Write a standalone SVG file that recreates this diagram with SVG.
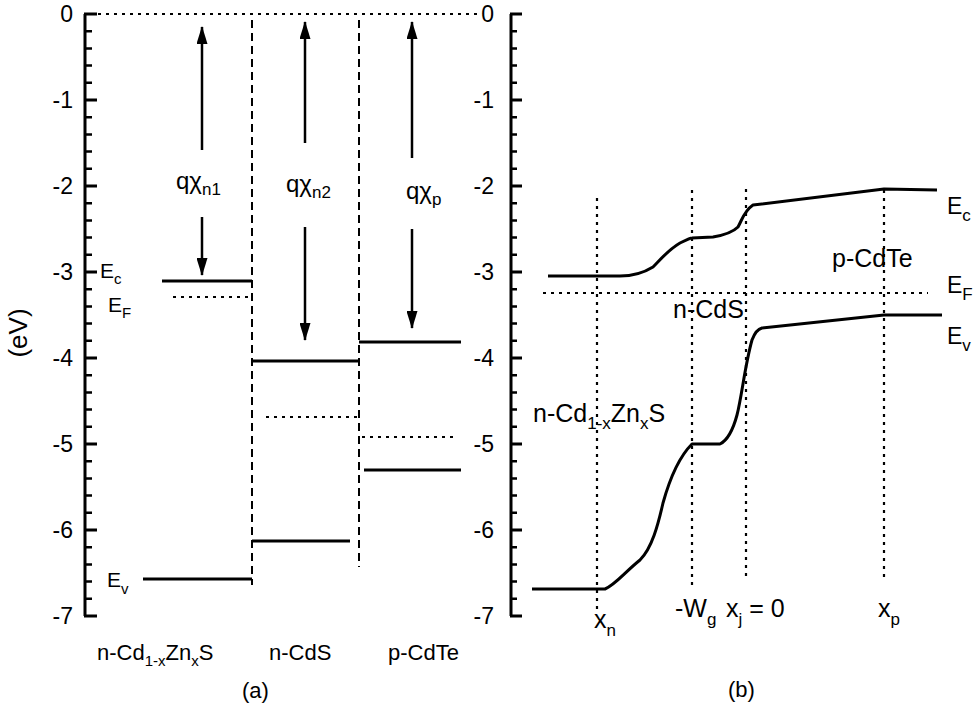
<svg xmlns="http://www.w3.org/2000/svg" width="976" height="707" viewBox="0 0 976 707">
<style>
text{font-family:"Liberation Sans",Arial,sans-serif;fill:#000}
.tk{font-size:23px;text-anchor:end}
.lb{font-size:25px}
.ql{font-size:24px}
.sm{font-size:22px}
.el{font-size:21px}
.eb{font-size:23px}
.sub{font-size:15px}
.sub2{font-size:17px}
.ax{stroke:#000;stroke-width:3;fill:none}
.lvl{stroke:#000;stroke-width:2.8;fill:none}
.dot{stroke:#000;stroke-width:2.2;stroke-dasharray:3 5;fill:none}
.dash{stroke:#000;stroke-width:2;stroke-dasharray:8 5;fill:none}
.arr{stroke:#000;stroke-width:2.5;fill:none;marker-end:url(#ah)}
.crv{stroke:#000;stroke-width:3;fill:none;stroke-linejoin:round}
</style>
<defs>
<marker id="ah" markerUnits="userSpaceOnUse" markerWidth="18" markerHeight="11" viewBox="0 0 18 11" refX="17" refY="5.5" orient="auto">
<path d="M0,0 L18,5.5 L0,11 z" fill="#000"/>
</marker>
</defs>
<rect width="976" height="707" fill="#fff"/>

<!-- Left axis -->
<g id="axis-left">
<path class="ax" d="M85,14 V616"/>
<path class="ax" d="M84,14 H97 M84,100 H97 M84,186 H97 M84,272 H97 M84,358 H97 M84,444 H97 M84,530 H97 M84,616 H97"/>
<path class="ax" style="stroke-width:2.5" d="M85,31.2 H92 M85,48.4 H92 M85,65.6 H92 M85,82.8 H92 M85,117.2 H92 M85,134.4 H92 M85,151.6 H92 M85,168.8 H92 M85,203.2 H92 M85,220.4 H92 M85,237.6 H92 M85,254.8 H92 M85,289.2 H92 M85,306.4 H92 M85,323.6 H92 M85,340.8 H92 M85,375.2 H92 M85,392.4 H92 M85,409.6 H92 M85,426.8 H92 M85,461.2 H92 M85,478.4 H92 M85,495.6 H92 M85,512.8 H92 M85,547.2 H92 M85,564.4 H92 M85,581.6 H92 M85,598.8 H92"/>
<text class="tk" x="73" y="22">0</text>
<text class="tk" x="73" y="108">-1</text>
<text class="tk" x="73" y="194">-2</text>
<text class="tk" x="73" y="280">-3</text>
<text class="tk" x="73" y="366">-4</text>
<text class="tk" x="73" y="452">-5</text>
<text class="tk" x="73" y="538">-6</text>
<text class="tk" x="73" y="624">-7</text>
<text x="0" y="0" style="font-size:26px" text-anchor="middle" transform="translate(27,333) rotate(-90)">(eV)</text>
</g>

<!-- Right axis -->
<g id="axis-right">
<path class="ax" d="M511,14 V616"/>
<path class="ax" d="M510,14 H522 M510,100 H522 M510,186 H522 M510,272 H522 M510,358 H522 M510,444 H522 M510,530 H522 M510,616 H522"/>
<path class="ax" style="stroke-width:2.5" d="M511,31.2 H517 M511,48.4 H517 M511,65.6 H517 M511,82.8 H517 M511,117.2 H517 M511,134.4 H517 M511,151.6 H517 M511,168.8 H517 M511,203.2 H517 M511,220.4 H517 M511,237.6 H517 M511,254.8 H517 M511,289.2 H517 M511,306.4 H517 M511,323.6 H517 M511,340.8 H517 M511,375.2 H517 M511,392.4 H517 M511,409.6 H517 M511,426.8 H517 M511,461.2 H517 M511,478.4 H517 M511,495.6 H517 M511,512.8 H517 M511,547.2 H517 M511,564.4 H517 M511,581.6 H517 M511,598.8 H517"/>
<text class="tk" x="494" y="22">0</text>
<text class="tk" x="494" y="108">-1</text>
<text class="tk" x="494" y="194">-2</text>
<text class="tk" x="494" y="280">-3</text>
<text class="tk" x="494" y="366">-4</text>
<text class="tk" x="494" y="452">-5</text>
<text class="tk" x="494" y="538">-6</text>
<text class="tk" x="494" y="624">-7</text>
</g>

<!-- Panel (a) -->
<g id="vacuum-level"><path class="dot" d="M98,14 H480"/></g>
<g id="interfaces">
<path class="dash" d="M252,20 V585"/>
<path class="dash" d="M359,20 V567"/>
</g>

<g id="n-CdZnS">
<path class="lvl" d="M162,281 H252"/>
<path class="dot" d="M173,297 H252"/>
<path class="lvl" d="M143,579 H252"/>
<text class="el" x="100" y="278">E<tspan class="sub" dy="6">c</tspan></text>
<text class="el" x="108" y="312">E<tspan class="sub" dy="6">F</tspan></text>
<text class="el" x="107" y="587">E<tspan class="sub" dy="7">v</tspan></text>
<text class="ql" x="176" y="189">qχ<tspan class="sub2" dy="6">n1</tspan></text>
<text class="sm" x="97" y="660">n-Cd<tspan class="sub" dy="6">1-x</tspan><tspan dy="-6">Zn</tspan><tspan class="sub" dy="6">x</tspan><tspan dy="-6">S</tspan></text>
</g>

<g id="n-CdS">
<path class="lvl" d="M252,361 H359"/>
<path class="dot" d="M266,417 H357"/>
<path class="lvl" d="M252,541 H350"/>
<text class="ql" x="286" y="192">qχ<tspan class="sub2" dy="6">n2</tspan></text>
<text class="sm" x="269" y="660">n-CdS</text>
</g>

<g id="p-CdTe">
<path class="lvl" d="M359,342 H461"/>
<path class="dot" d="M362,437 H453"/>
<path class="lvl" d="M364,470 H461"/>
<text class="ql" x="406" y="199">qχ<tspan class="sub2" dy="6">p</tspan></text>
<text class="sm" x="388" y="660">p-CdTe</text>
</g>

<g id="connectors">
<path class="arr" d="M202,150 V27"/>
<path class="arr" d="M202,217 V275"/>
<path class="arr" d="M305,143 V22"/>
<path class="arr" d="M305,227 V340"/>
<path class="arr" d="M412,158 V22"/>
<path class="arr" d="M412,229 V328"/>
</g>

<text x="242" y="698" style="font-size:22px">(a)</text>

<!-- Panel (b) -->
<g id="markers-b">
<path class="dot" d="M597,198 V612"/>
<path class="dot" d="M692,190 V588"/>
<path class="dot" d="M746,189 V577"/>
<path class="dot" d="M884,190 V577"/>
<path class="dot" d="M543,293 H928"/>
</g>
<g id="band-Ec">
<path class="crv" d="M548,276 L620,276 C635,276 645,272 653,267 C660,260 668,250 680,243 C686,240 690,238 692,238 L713,237 C725,235 733,232 738,227 C742,220 744,211 753,205 L884,189 L937,190"/>
<text class="eb" x="947" y="214">E<tspan class="sub2" dy="7">c</tspan></text>
</g>
<g id="band-Ev">
<path class="crv" d="M532,589 L605,589 C615,585 625,572 640,560 C652,548 658,525 663,503 C668,485 678,458 692,444 L720,444 C728,440 733,430 737,415 C742,395 745,365 752,340 C755,332 758,329 762,328 L884,315 L942,315"/>
<text class="eb" x="947" y="344">E<tspan class="sub2" dy="7">v</tspan></text>
</g>
<text class="eb" x="947" y="293">E<tspan class="sub2" dy="7">F</tspan></text>
<text class="lb" x="832" y="267">p-CdTe</text>
<text class="lb" x="673" y="318">n-CdS</text>
<text class="lb" x="533" y="422">n-Cd<tspan class="sub2" dy="7">1-x</tspan><tspan dy="-7">Zn</tspan><tspan class="sub2" dy="7">x</tspan><tspan dy="-7">S</tspan></text>
<text class="lb" x="594" y="628">x<tspan class="sub2" dy="8">n</tspan></text>
<text class="lb" x="675" y="617">-W<tspan class="sub2" dy="8">g</tspan></text>
<text class="lb" x="726" y="617">x<tspan class="sub2" dy="8">j</tspan><tspan dy="-8"> = 0</tspan></text>
<text class="lb" x="878" y="617">x<tspan class="sub2" dy="8">p</tspan></text>
<text x="728" y="697" style="font-size:22px">(b)</text>
</svg>
